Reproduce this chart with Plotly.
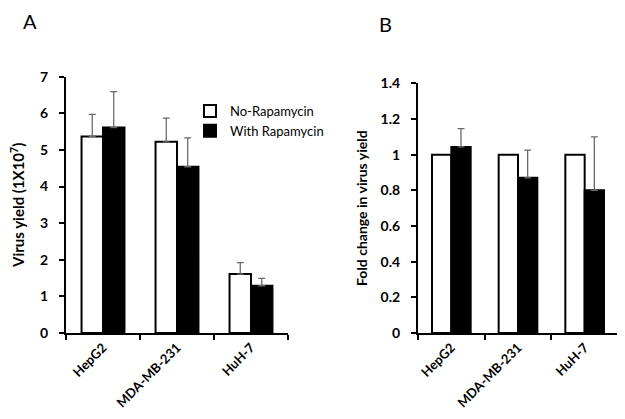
import plotly.graph_objects as go

categories = ["HepG2", "MDA-MB-231", "HuH-7"]
series_names = ["No-Rapamycin", "With Rapamycin"]

# Panel A: virus yield (1X10^7)
yield_no_rapa = [5.37, 5.22, 1.61]
yield_no_rapa_err = [0.60, 0.65, 0.31]
yield_with_rapa = [5.61, 4.54, 1.29]
yield_with_rapa_err = [0.98, 0.79, 0.20]

# Panel B: fold change in virus yield
fold_no_rapa = [1.0, 1.0, 1.0]
fold_with_rapa = [1.043, 0.87, 0.80]
fold_with_rapa_err = [0.103, 0.155, 0.30]

W, H = 625, 419
OFF = 8  # page body margin
FONT = "Lato"
ERR_COLOR = "#6a6a6a"

def px_x(p):
    return (p - OFF) / W

def px_y(p):
    return (H - (p - OFF)) / H

fig = go.Figure()

def add_bar(name, x, y, err, fill, xaxis, yaxis, showlegend):
    kw = {}
    if err is not None:
        kw["error_y"] = dict(type="data", array=err, arrayminus=[0] * len(err),
                             symmetric=False, color=ERR_COLOR, thickness=1.3, width=3.5)
    fig.add_trace(go.Bar(
        name=name, x=x, y=y, xaxis=xaxis, yaxis=yaxis,
        marker=dict(color=fill, line=dict(color="black", width=2)),
        showlegend=showlegend, **kw))

add_bar(series_names[0], categories, yield_no_rapa, yield_no_rapa_err, "white", "x", "y", True)
add_bar(series_names[1], categories, yield_with_rapa, yield_with_rapa_err, "black", "x", "y", True)
add_bar(series_names[0], categories, fold_no_rapa, None, "white", "x2", "y2", False)
add_bar(series_names[1], categories, fold_with_rapa, fold_with_rapa_err, "black", "x2", "y2", False)

tickfont = dict(family=FONT, size=14, color="black", weight="bold")
catfont = dict(family=FONT, size=13, color="black", weight="bold")

xcommon = dict(showline=True, linecolor="black", linewidth=2, ticks="outside",
               tickson="boundaries", ticklen=5, tickwidth=1.5, tickcolor="black",
               tickangle=-45, tickfont=catfont, showgrid=False, zeroline=False,
               fixedrange=True, automargin=False)
ycommon = dict(showline=True, linecolor="black", linewidth=2, ticks="outside",
               ticklen=5, tickwidth=1.5, tickcolor="black", tickfont=tickfont,
               ticklabelstandoff=8,
               showgrid=False, zeroline=False, fixedrange=True, automargin=False)

fig.update_layout(
    width=W, height=H,
    margin=dict(l=0, r=0, t=0, b=0, pad=0, autoexpand=False),
    paper_bgcolor="white", plot_bgcolor="white",
    barmode="group", bargap=0.42, bargroupgap=0,
    font=dict(family=FONT, color="black"),
    xaxis=dict(domain=[px_x(66), px_x(288)], anchor="y", **xcommon),
    yaxis=dict(domain=[px_y(333), px_y(76.7)], anchor="x", range=[0, 7], dtick=1,
               title=dict(text="Virus yield (1X10<sup>7</sup>)",
                          font=dict(family=FONT, size=15, weight="bold"), standoff=14),
               **ycommon),
    xaxis2=dict(domain=[px_x(418), px_x(618)], anchor="y2", **xcommon),
    yaxis2=dict(domain=[px_y(333), px_y(83.3)], anchor="x2", range=[0, 1.4], dtick=0.2,
                title=dict(text="Fold change in virus yield",
                           font=dict(family=FONT, size=14, weight="bold"), standoff=10),
                **ycommon),
    legend=dict(x=px_x(190), y=px_y(96), xanchor="left", yanchor="top",
                font=dict(family=FONT, size=13, color="black"),
                bgcolor="rgba(0,0,0,0)", itemwidth=30, tracegroupgap=0),
    annotations=[
        dict(text="A", x=px_x(30), y=px_y(21), xref="paper", yref="paper",
             xanchor="center", yanchor="middle",
             showarrow=False, font=dict(family=FONT, size=20, color="black")),
        dict(text="B", x=px_x(385), y=px_y(24), xref="paper", yref="paper",
             xanchor="center", yanchor="middle",
             showarrow=False, font=dict(family=FONT, size=20, color="black")),
    ],
)

fig.write_html("out.html")
